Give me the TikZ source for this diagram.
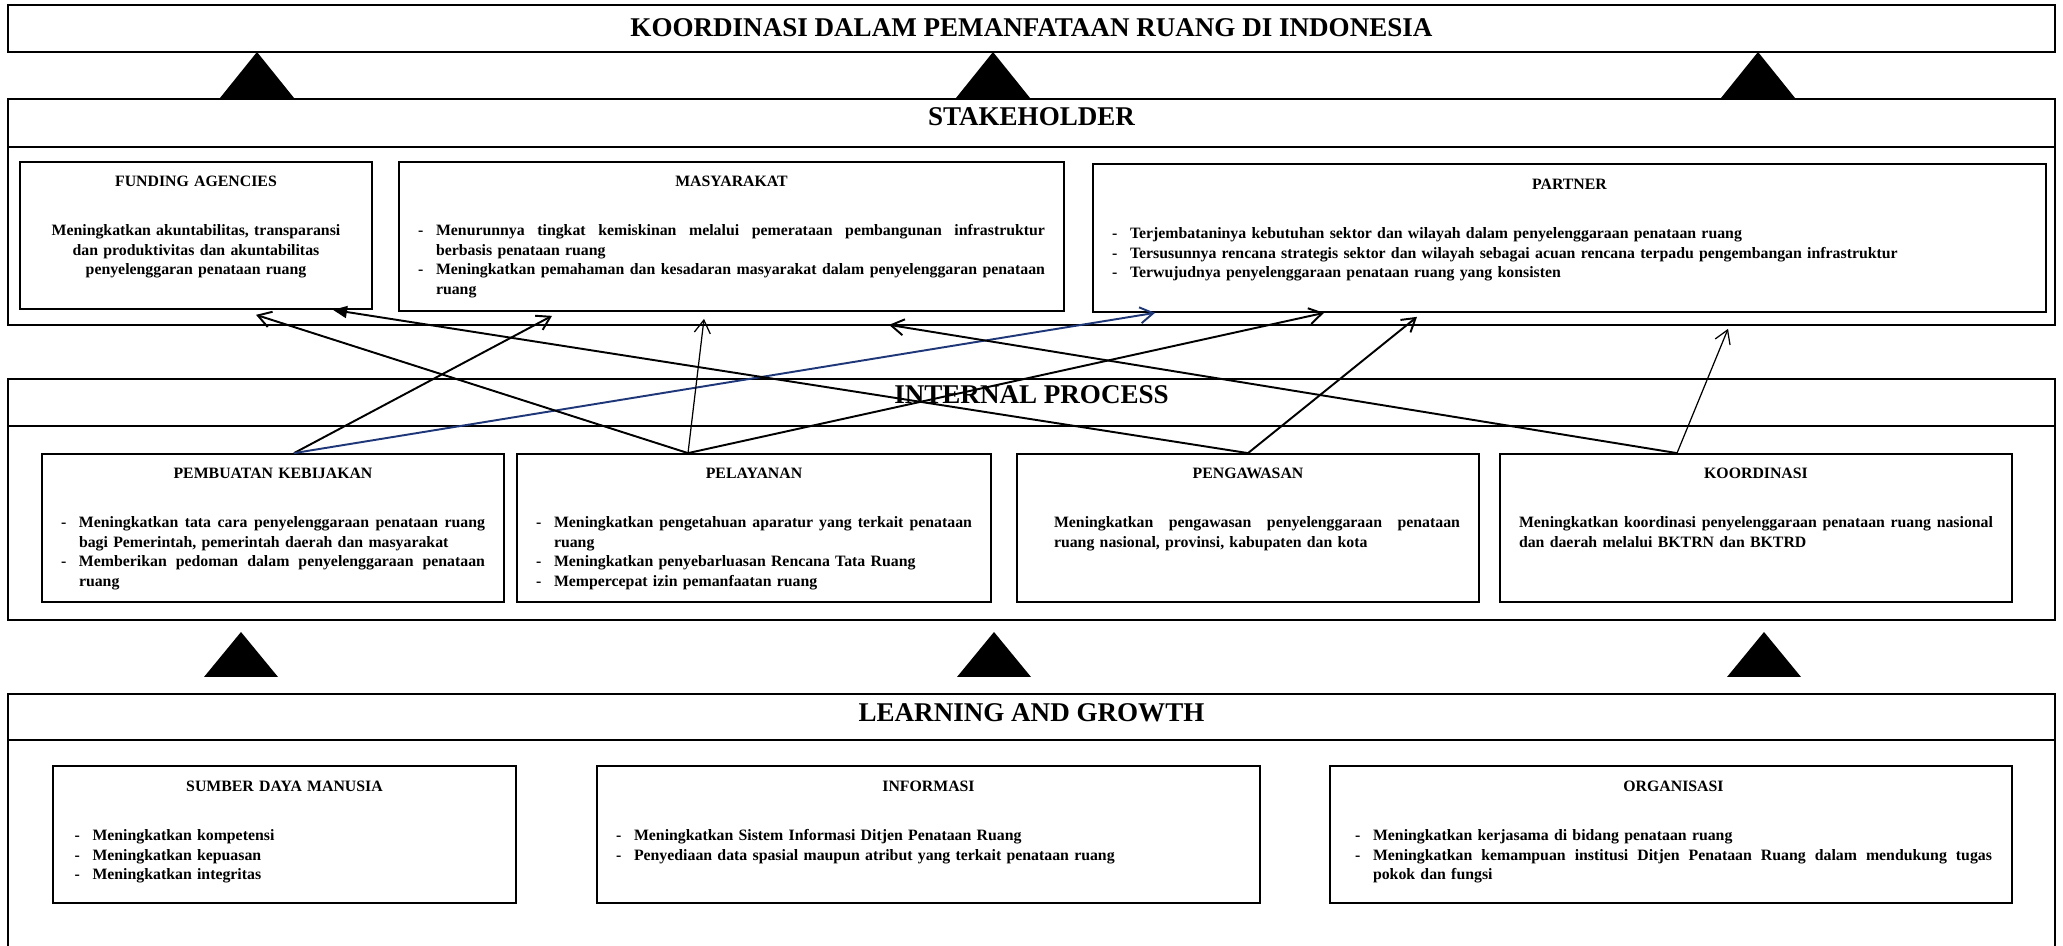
\documentclass[tikz,border=0pt]{standalone}
\usepackage{fontspec}
\setmainfont{Liberation Serif}
\usetikzlibrary{arrows.meta,calc,positioning,shadows}

\tolerance=9999
\hbadness=10000
\newcommand{\justifypar}{\rightskip=0pt\relax\parfillskip=0pt plus 1fil\relax
    \spaceskip=0.3333em plus 0.25em minus 0.1em\relax\xspaceskip=\spaceskip}
\newcommand{\dashitem}[1]{\par\hangindent=0.36cm\hangafter=1\noindent\justifypar\makebox[0.36cm][l]{-}#1}
\newcommand{\panelhead}[1]{{\centering #1\par}\vspace{17.3pt}}

\begin{document}
\begin{tikzpicture}[
    font=\bfseries,
    >={Straight Barb[length=2.6mm,width=3.2mm]},
]

\definecolor{linkBlue}{RGB}{30,55,120}
\definecolor{shadowGray}{RGB}{150,150,150}

\tikzset{
    layer/.style = {rectangle, draw=black, line width=1.1pt, minimum width=40.94cm, inner sep=0pt},
    layer_title/.style = {font=\fontsize{15.4}{18}\selectfont\bfseries, inner sep=0pt},
    panel/.style = {rectangle, draw=black, line width=1pt, fill=white, inner sep=0pt,
                    drop shadow={shadow xshift=0.7pt, shadow yshift=-0.7pt, fill=shadowGray, opacity=1}},
    panel_text/.style = {font=\fontsize{9}{11.06}\selectfont\bfseries, anchor=base, inner sep=0pt},
    block_arrow/.style = {fill=black},
    link/.style = {line width=1.1pt, ->},
    thin_link/.style = {line width=0.7pt, ->},
}

\clip (0,0) rectangle (41.26,18.92);

% =========== GOAL ===========
\node[layer, minimum height=0.94cm] (goal) at (20.63,18.35) {};
\node[layer_title] (goaltitle) at ([yshift=-0.47cm]goal.north) {KOORDINASI DALAM PEMANFATAAN RUANG DI INDONESIA};

% upward block arrows
\fill[block_arrow] (4.40,16.96) -- (5.14,17.88) -- (5.88,16.96) -- cycle;
\fill[block_arrow] (19.12,16.96) -- (19.86,17.88) -- (20.60,16.96) -- cycle;
\fill[block_arrow] (34.42,16.96) -- (35.16,17.88) -- (35.90,16.96) -- cycle;

% =========== STAKEHOLDER ===========
\node[layer, minimum height=4.52cm] (stakeholder) at (20.63,14.68) {};
\draw[line width=1.1pt] ([yshift=-0.98cm]stakeholder.north west) -- ([yshift=-0.98cm]stakeholder.north east);
\node[layer_title] (stakeholdertitle) at ([yshift=-0.38cm]stakeholder.north) {STAKEHOLDER};

\node[panel, minimum width=7.04cm, minimum height=2.94cm] (funding) at (3.92,14.21) {};
\node[panel_text, text width=6.24cm] (fundingtext) at ([yshift=-0.50cm]funding.north) {
    \panelhead{FUNDING AGENCIES}
    {\centering Meningkatkan akuntabilitas, transparansi\\ dan produktivitas dan akuntabilitas\\ penyelenggaran penataan ruang\par}
};

\node[panel, minimum width=13.30cm, minimum height=2.98cm] (masyarakat) at (14.63,14.19) {};
\node[panel_text, text width=12.54cm] (masyarakattext) at ([yshift=-0.50cm]masyarakat.north) {
    \panelhead{MASYARAKAT}
    \dashitem{Menurunnya tingkat kemiskinan melalui pemerataan pembangunan infrastruktur\linebreak berbasis penataan ruang}
    \dashitem{Meningkatkan pemahaman dan kesadaran masyarakat dalam penyelenggaran penataan\linebreak ruang}\par
};

\node[panel, minimum width=19.06cm, minimum height=2.96cm] (partner) at (31.39,14.16) {};
\node[panel_text, text width=18.30cm] (partnertext) at ([yshift=-0.52cm]partner.north) {
    \panelhead{PARTNER}
    \dashitem{Terjembataninya kebutuhan sektor dan wilayah dalam penyelenggaraan penataan ruang}
    \dashitem{Tersusunnya rencana strategis sektor dan wilayah sebagai acuan rencana terpadu pengembangan infrastruktur}
    \dashitem{Terwujudnya penyelenggaraan penataan ruang yang konsisten}\par
};

% =========== INTERNAL PROCESS ===========
\node[layer, minimum height=4.82cm] (internal) at (20.63,8.93) {};
\draw[line width=1.1pt] ([yshift=-0.96cm]internal.north west) -- ([yshift=-0.96cm]internal.north east);
\node[layer_title] (internaltitle) at ([yshift=-0.34cm]internal.north) {INTERNAL PROCESS};

\node[panel, minimum width=9.24cm, minimum height=2.96cm] (kebijakan) at (5.46,8.36) {};
\node[panel_text, text width=8.48cm] (kebijakantext) at ([yshift=-0.50cm]kebijakan.north) {
    \panelhead{PEMBUATAN KEBIJAKAN}
    \dashitem{Meningkatkan tata cara penyelenggaraan penataan ruang\linebreak bagi Pemerintah, pemerintah daerah dan masyarakat}
    \dashitem{Memberikan pedoman dalam penyelenggaraan penataan\linebreak ruang}\par
};

\node[panel, minimum width=9.48cm, minimum height=2.96cm] (pelayanan) at (15.08,8.36) {};
\node[panel_text, text width=8.72cm] (pelayanantext) at ([yshift=-0.50cm]pelayanan.north) {
    \panelhead{PELAYANAN}
    \dashitem{Meningkatkan pengetahuan aparatur yang terkait penataan\linebreak ruang}
    \dashitem{Meningkatkan penyebarluasan Rencana Tata Ruang}
    \dashitem{Mempercepat izin pemanfaatan ruang}\par
};

\node[panel, minimum width=9.24cm, minimum height=2.96cm] (pengawasan) at (24.96,8.36) {};
\node[panel_text, text width=8.48cm] (pengawasantext) at ([yshift=-0.50cm]pengawasan.north) {
    \panelhead{PENGAWASAN}
    \noindent\justifypar\leftskip=0.36cm\relax Meningkatkan pengawasan penyelenggaraan penataan\linebreak ruang nasional, provinsi, kabupaten dan kota\par
};

\node[panel, minimum width=10.24cm, minimum height=2.96cm] (koordinasi) at (35.12,8.36) {};
\node[panel_text, text width=9.48cm] (koordinasitext) at ([yshift=-0.50cm]koordinasi.north) {
    \panelhead{KOORDINASI}
    \noindent\justifypar\leftskip=0pt\relax Meningkatkan koordinasi penyelenggaraan penataan ruang nasional\linebreak dan daerah melalui BKTRN dan BKTRD\par
};

% upward block arrows
\fill[block_arrow] (4.08,5.38) -- (4.82,6.28) -- (5.56,5.38) -- cycle;
\fill[block_arrow] (19.14,5.38) -- (19.88,6.28) -- (20.62,5.38) -- cycle;
\fill[block_arrow] (34.54,5.38) -- (35.28,6.28) -- (36.02,5.38) -- cycle;

% =========== LEARNING AND GROWTH ===========
\node[layer, minimum height=6.04cm] (learning) at (20.63,2.02) {};
\draw[line width=1.1pt] ([yshift=-0.94cm]learning.north west) -- ([yshift=-0.94cm]learning.north east);
\node[layer_title] (learningtitle) at ([yshift=-0.40cm]learning.north) {LEARNING AND GROWTH};

\node[panel, minimum width=9.26cm, minimum height=2.74cm] (sdm) at (5.69,2.23) {};
\node[panel_text, text width=8.40cm] (sdmtext) at ([yshift=-0.52cm]sdm.north) {
    \panelhead{SUMBER DAYA MANUSIA}
    \dashitem{Meningkatkan kompetensi}
    \dashitem{Meningkatkan kepuasan}
    \dashitem{Meningkatkan integritas}\par
};

\node[panel, minimum width=13.26cm, minimum height=2.74cm] (informasi) at (18.57,2.23) {};
\node[panel_text, text width=12.50cm] (informasitext) at ([yshift=-0.52cm]informasi.north) {
    \panelhead{INFORMASI}
    \dashitem{Meningkatkan Sistem Informasi Ditjen Penataan Ruang}
    \dashitem{Penyediaan data spasial maupun atribut yang terkait penataan ruang}\par
};

\node[panel, minimum width=13.64cm, minimum height=2.74cm] (organisasi) at (33.42,2.23) {};
\node[panel_text, text width=12.74cm] (organisasitext) at ([xshift=0.05cm,yshift=-0.52cm]organisasi.north) {
    \panelhead{ORGANISASI}
    \dashitem{Meningkatkan kerjasama di bidang penataan ruang}
    \dashitem{Meningkatkan kemampuan institusi Ditjen Penataan Ruang dalam mendukung tugas\linebreak pokok dan fungsi}\par
};

% =========== LINKS ===========
\draw[link] ([xshift=0.42cm]kebijakan.north) -- ([xshift=-3.59cm,yshift=-0.08cm]masyarakat.south);
\draw[link, draw=linkBlue] ([xshift=0.42cm]kebijakan.north) -- ([xshift=-8.29cm]partner.south);
\draw[link] ([xshift=-1.32cm]pelayanan.north) -- ([xshift=1.20cm,yshift=-0.10cm]funding.south);
\draw[thin_link] ([xshift=-1.32cm]pelayanan.north) -- ([xshift=-0.55cm,yshift=-0.14cm]masyarakat.south);
\draw[link] ([xshift=-1.32cm]pelayanan.north) -- ([xshift=-4.91cm]partner.south);
\draw[link, -{Triangle[length=2.8mm,width=2.4mm]}] (pengawasan.north) -- ([xshift=2.74cm]funding.south);
\draw[link] (pengawasan.north) -- ([xshift=-3.05cm,yshift=-0.08cm]partner.south);
\draw[link] ([xshift=-1.58cm]koordinasi.north) -- ([xshift=3.15cm,yshift=-0.26cm]masyarakat.south);
\draw[thin_link] ([xshift=-1.58cm]koordinasi.north) -- ([xshift=3.17cm,yshift=-0.32cm]partner.south);

\end{tikzpicture}
\end{document}
